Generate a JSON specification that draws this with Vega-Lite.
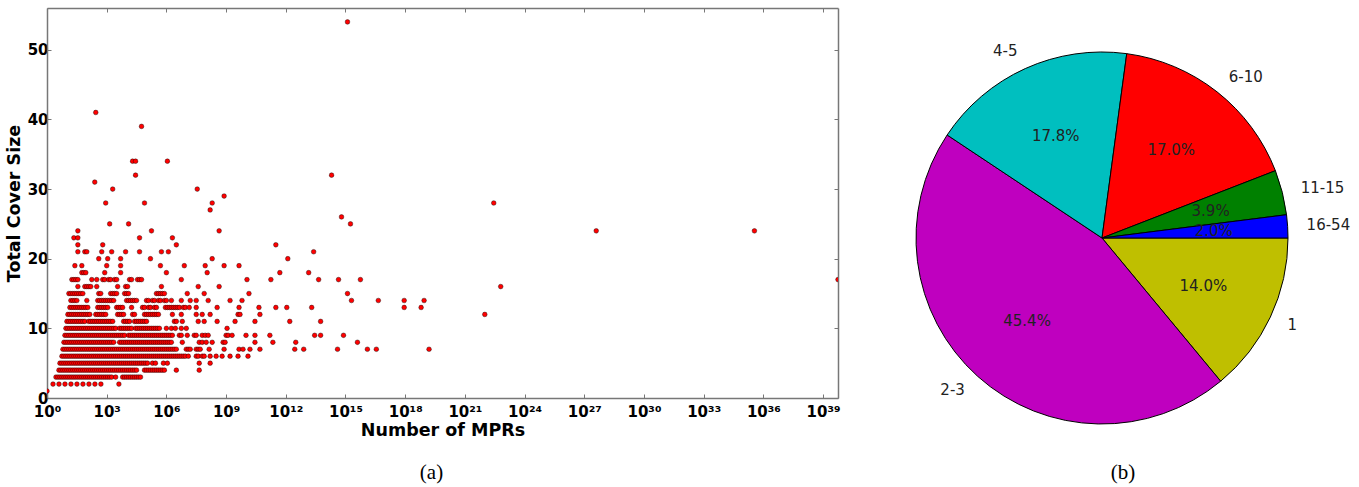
{
"$schema":"https://vega.github.io/schema/vega-lite/v6.json",
"background":"white",
"padding":{"left":5,"top":7,"right":5,"bottom":5},
"config":{"view":{"stroke":null},"font":"DejaVu Sans"},
"datasets":{
"pie":[{"label":"1","pct":14.0,"rank":1},{"label":"2-3","pct":45.4,"rank":2},{"label":"4-5","pct":17.8,"rank":3},{"label":"6-10","pct":17.0,"rank":4},{"label":"11-15","pct":3.9,"rank":5},{"label":"16-54","pct":2.0,"rank":6}],
"mpr":[
{"mprs":1,"cover":1},
{"mprs":2,"cover":2},{"mprs":4,"cover":2},{"mprs":8,"cover":2},{"mprs":16,"cover":2},{"mprs":32,"cover":2},{"mprs":64,"cover":2},{"mprs":128,"cover":2},{"mprs":256,"cover":2},{"mprs":512,"cover":2},{"mprs":4096,"cover":2},
{"mprs":2.82,"cover":3},{"mprs":3.55,"cover":3},{"mprs":4.47,"cover":3},{"mprs":5.62,"cover":3},{"mprs":7.08,"cover":3},{"mprs":8.91,"cover":3},{"mprs":11.2,"cover":3},{"mprs":14.1,"cover":3},{"mprs":17.8,"cover":3},{"mprs":22.4,"cover":3},{"mprs":28.2,"cover":3},{"mprs":35.5,"cover":3},{"mprs":44.7,"cover":3},{"mprs":56.2,"cover":3},{"mprs":70.8,"cover":3},{"mprs":89.1,"cover":3},{"mprs":112,"cover":3},{"mprs":141,"cover":3},{"mprs":178,"cover":3},{"mprs":224,"cover":3},{"mprs":282,"cover":3},{"mprs":355,"cover":3},{"mprs":447,"cover":3},{"mprs":562,"cover":3},{"mprs":708,"cover":3},{"mprs":891,"cover":3},{"mprs":1120,"cover":3},{"mprs":1410,"cover":3},{"mprs":1780,"cover":3},{"mprs":2820,"cover":3},{"mprs":6310,"cover":3},{"mprs":7940,"cover":3},{"mprs":10000,"cover":3},{"mprs":12600,"cover":3},{"mprs":15800,"cover":3},{"mprs":20000,"cover":3},{"mprs":25100,"cover":3},{"mprs":31600,"cover":3},{"mprs":39800,"cover":3},{"mprs":50100,"cover":3},
{"mprs":3.98,"cover":4},{"mprs":5.01,"cover":4},{"mprs":6.31,"cover":4},{"mprs":7.94,"cover":4},{"mprs":10,"cover":4},{"mprs":12.6,"cover":4},{"mprs":15.8,"cover":4},{"mprs":20,"cover":4},{"mprs":25.1,"cover":4},{"mprs":31.6,"cover":4},{"mprs":39.8,"cover":4},{"mprs":50.1,"cover":4},{"mprs":63.1,"cover":4},{"mprs":79.4,"cover":4},{"mprs":100,"cover":4},{"mprs":126,"cover":4},{"mprs":158,"cover":4},{"mprs":200,"cover":4},{"mprs":251,"cover":4},{"mprs":316,"cover":4},{"mprs":398,"cover":4},{"mprs":501,"cover":4},{"mprs":631,"cover":4},{"mprs":794,"cover":4},{"mprs":1000,"cover":4},{"mprs":1260,"cover":4},{"mprs":1580,"cover":4},{"mprs":2000,"cover":4},{"mprs":2510,"cover":4},{"mprs":3160,"cover":4},{"mprs":3980,"cover":4},{"mprs":5010,"cover":4},{"mprs":6310,"cover":4},{"mprs":7940,"cover":4},{"mprs":10000,"cover":4},{"mprs":12600,"cover":4},{"mprs":15800,"cover":4},{"mprs":20000,"cover":4},{"mprs":25100,"cover":4},{"mprs":31600,"cover":4},{"mprs":79400,"cover":4},{"mprs":1e5,"cover":4},{"mprs":1.26e5,"cover":4},{"mprs":1.58e5,"cover":4},{"mprs":2e5,"cover":4},{"mprs":2.51e5,"cover":4},{"mprs":3.16e5,"cover":4},{"mprs":3.98e5,"cover":4},{"mprs":5.01e5,"cover":4},{"mprs":6.31e5,"cover":4},{"mprs":7.94e5,"cover":4},{"mprs":3.16e6,"cover":4},{"mprs":4.47e7,"cover":4},
{"mprs":4.47,"cover":5},{"mprs":5.62,"cover":5},{"mprs":7.08,"cover":5},{"mprs":8.91,"cover":5},{"mprs":11.2,"cover":5},{"mprs":14.1,"cover":5},{"mprs":17.8,"cover":5},{"mprs":22.4,"cover":5},{"mprs":28.2,"cover":5},{"mprs":35.5,"cover":5},{"mprs":44.7,"cover":5},{"mprs":56.2,"cover":5},{"mprs":70.8,"cover":5},{"mprs":89.1,"cover":5},{"mprs":112,"cover":5},{"mprs":141,"cover":5},{"mprs":178,"cover":5},{"mprs":224,"cover":5},{"mprs":282,"cover":5},{"mprs":355,"cover":5},{"mprs":447,"cover":5},{"mprs":562,"cover":5},{"mprs":708,"cover":5},{"mprs":891,"cover":5},{"mprs":1120,"cover":5},{"mprs":1410,"cover":5},{"mprs":1780,"cover":5},{"mprs":2240,"cover":5},{"mprs":2820,"cover":5},{"mprs":3550,"cover":5},{"mprs":4470,"cover":5},{"mprs":5620,"cover":5},{"mprs":7080,"cover":5},{"mprs":8910,"cover":5},{"mprs":11200,"cover":5},{"mprs":14100,"cover":5},{"mprs":17800,"cover":5},{"mprs":22400,"cover":5},{"mprs":28200,"cover":5},{"mprs":35500,"cover":5},{"mprs":44700,"cover":5},{"mprs":56200,"cover":5},{"mprs":70800,"cover":5},{"mprs":89100,"cover":5},{"mprs":1.12e5,"cover":5},{"mprs":2e5,"cover":5},{"mprs":2.82e5,"cover":5},{"mprs":7.08e5,"cover":5},{"mprs":1.12e6,"cover":5},{"mprs":4.47e7,"cover":5},{"mprs":1.58e8,"cover":5},
{"mprs":5.62,"cover":6},{"mprs":7.08,"cover":6},{"mprs":8.91,"cover":6},{"mprs":11.2,"cover":6},{"mprs":14.1,"cover":6},{"mprs":17.8,"cover":6},{"mprs":22.4,"cover":6},{"mprs":28.2,"cover":6},{"mprs":35.5,"cover":6},{"mprs":44.7,"cover":6},{"mprs":56.2,"cover":6},{"mprs":70.8,"cover":6},{"mprs":89.1,"cover":6},{"mprs":112,"cover":6},{"mprs":141,"cover":6},{"mprs":178,"cover":6},{"mprs":224,"cover":6},{"mprs":282,"cover":6},{"mprs":355,"cover":6},{"mprs":447,"cover":6},{"mprs":562,"cover":6},{"mprs":708,"cover":6},{"mprs":891,"cover":6},{"mprs":1120,"cover":6},{"mprs":1410,"cover":6},{"mprs":1780,"cover":6},{"mprs":2240,"cover":6},{"mprs":2820,"cover":6},{"mprs":3550,"cover":6},{"mprs":4470,"cover":6},{"mprs":5620,"cover":6},{"mprs":7080,"cover":6},{"mprs":8910,"cover":6},{"mprs":11200,"cover":6},{"mprs":14100,"cover":6},{"mprs":17800,"cover":6},{"mprs":22400,"cover":6},{"mprs":28200,"cover":6},{"mprs":35500,"cover":6},{"mprs":44700,"cover":6},{"mprs":56200,"cover":6},{"mprs":70800,"cover":6},{"mprs":89100,"cover":6},{"mprs":1.12e5,"cover":6},{"mprs":1.41e5,"cover":6},{"mprs":1.78e5,"cover":6},{"mprs":2.24e5,"cover":6},{"mprs":2.82e5,"cover":6},{"mprs":3.55e5,"cover":6},{"mprs":4.47e5,"cover":6},{"mprs":5.62e5,"cover":6},{"mprs":7.08e5,"cover":6},{"mprs":8.91e5,"cover":6},{"mprs":1.12e6,"cover":6},{"mprs":1.41e6,"cover":6},{"mprs":1.78e6,"cover":6},{"mprs":2.24e6,"cover":6},{"mprs":2.82e6,"cover":6},{"mprs":3.55e6,"cover":6},{"mprs":4.47e6,"cover":6},{"mprs":5.62e6,"cover":6},{"mprs":7.08e6,"cover":6},{"mprs":8.91e6,"cover":6},{"mprs":1.26e7,"cover":6},{"mprs":3.16e7,"cover":6},{"mprs":3.98e7,"cover":6},{"mprs":6.31e7,"cover":6},{"mprs":7.94e7,"cover":6},{"mprs":1.58e8,"cover":6},{"mprs":3.16e8,"cover":6},{"mprs":6.31e8,"cover":6},{"mprs":1.58e9,"cover":6},{"mprs":3.98e9,"cover":6},{"mprs":1.26e10,"cover":6},
{"mprs":6.31,"cover":7},{"mprs":7.94,"cover":7},{"mprs":10,"cover":7},{"mprs":12.6,"cover":7},{"mprs":15.8,"cover":7},{"mprs":20,"cover":7},{"mprs":25.1,"cover":7},{"mprs":31.6,"cover":7},{"mprs":39.8,"cover":7},{"mprs":50.1,"cover":7},{"mprs":63.1,"cover":7},{"mprs":79.4,"cover":7},{"mprs":100,"cover":7},{"mprs":126,"cover":7},{"mprs":158,"cover":7},{"mprs":200,"cover":7},{"mprs":251,"cover":7},{"mprs":316,"cover":7},{"mprs":398,"cover":7},{"mprs":501,"cover":7},{"mprs":631,"cover":7},{"mprs":794,"cover":7},{"mprs":1000,"cover":7},{"mprs":1260,"cover":7},{"mprs":1580,"cover":7},{"mprs":2000,"cover":7},{"mprs":2510,"cover":7},{"mprs":3160,"cover":7},{"mprs":3980,"cover":7},{"mprs":5010,"cover":7},{"mprs":6310,"cover":7},{"mprs":7940,"cover":7},{"mprs":10000,"cover":7},{"mprs":12600,"cover":7},{"mprs":15800,"cover":7},{"mprs":20000,"cover":7},{"mprs":25100,"cover":7},{"mprs":31600,"cover":7},{"mprs":39800,"cover":7},{"mprs":50100,"cover":7},{"mprs":63100,"cover":7},{"mprs":79400,"cover":7},{"mprs":1e5,"cover":7},{"mprs":1.26e5,"cover":7},{"mprs":1.58e5,"cover":7},{"mprs":2e5,"cover":7},{"mprs":2.51e5,"cover":7},{"mprs":3.16e5,"cover":7},{"mprs":3.98e5,"cover":7},{"mprs":5.01e5,"cover":7},{"mprs":6.31e5,"cover":7},{"mprs":7.94e5,"cover":7},{"mprs":1e6,"cover":7},{"mprs":1.26e6,"cover":7},{"mprs":1.58e6,"cover":7},{"mprs":2e6,"cover":7},{"mprs":2.51e6,"cover":7},{"mprs":3.16e6,"cover":7},{"mprs":1e7,"cover":7},{"mprs":1.26e7,"cover":7},{"mprs":1.58e7,"cover":7},{"mprs":3.16e7,"cover":7},{"mprs":3.98e7,"cover":7},{"mprs":5.01e7,"cover":7},{"mprs":1.41e8,"cover":7},{"mprs":7.94e8,"cover":7},{"mprs":4.47e9,"cover":7},{"mprs":7.08e9,"cover":7},{"mprs":1.58e10,"cover":7},{"mprs":5.01e10,"cover":7},{"mprs":2.82e12,"cover":7},{"mprs":7.94e12,"cover":7},{"mprs":3.98e14,"cover":7},{"mprs":1.26e16,"cover":7},{"mprs":3.55e16,"cover":7},{"mprs":1.58e19,"cover":7},
{"mprs":7.08,"cover":8},{"mprs":8.91,"cover":8},{"mprs":11.2,"cover":8},{"mprs":14.1,"cover":8},{"mprs":17.8,"cover":8},{"mprs":22.4,"cover":8},{"mprs":28.2,"cover":8},{"mprs":35.5,"cover":8},{"mprs":44.7,"cover":8},{"mprs":56.2,"cover":8},{"mprs":70.8,"cover":8},{"mprs":89.1,"cover":8},{"mprs":112,"cover":8},{"mprs":141,"cover":8},{"mprs":178,"cover":8},{"mprs":224,"cover":8},{"mprs":282,"cover":8},{"mprs":355,"cover":8},{"mprs":447,"cover":8},{"mprs":562,"cover":8},{"mprs":708,"cover":8},{"mprs":891,"cover":8},{"mprs":1120,"cover":8},{"mprs":1410,"cover":8},{"mprs":1780,"cover":8},{"mprs":2240,"cover":8},{"mprs":4470,"cover":8},{"mprs":5620,"cover":8},{"mprs":7080,"cover":8},{"mprs":8910,"cover":8},{"mprs":11200,"cover":8},{"mprs":14100,"cover":8},{"mprs":17800,"cover":8},{"mprs":22400,"cover":8},{"mprs":28200,"cover":8},{"mprs":35500,"cover":8},{"mprs":44700,"cover":8},{"mprs":56200,"cover":8},{"mprs":70800,"cover":8},{"mprs":89100,"cover":8},{"mprs":1.12e5,"cover":8},{"mprs":1.41e5,"cover":8},{"mprs":1.78e5,"cover":8},{"mprs":2.24e5,"cover":8},{"mprs":2.82e5,"cover":8},{"mprs":3.55e5,"cover":8},{"mprs":4.47e5,"cover":8},{"mprs":5.62e5,"cover":8},{"mprs":7.08e5,"cover":8},{"mprs":8.91e5,"cover":8},{"mprs":1.12e6,"cover":8},{"mprs":1.41e6,"cover":8},{"mprs":1.78e6,"cover":8},{"mprs":6.31e6,"cover":8},{"mprs":4.47e7,"cover":8},{"mprs":6.31e7,"cover":8},{"mprs":1e8,"cover":8},{"mprs":2e8,"cover":8},{"mprs":7.08e8,"cover":8},{"mprs":8.91e8,"cover":8},{"mprs":2.82e10,"cover":8},{"mprs":2.24e11,"cover":8},{"mprs":3.16e12,"cover":8},{"mprs":3.98e15,"cover":8},
{"mprs":7.94,"cover":9},{"mprs":10,"cover":9},{"mprs":12.6,"cover":9},{"mprs":15.8,"cover":9},{"mprs":20,"cover":9},{"mprs":25.1,"cover":9},{"mprs":31.6,"cover":9},{"mprs":39.8,"cover":9},{"mprs":50.1,"cover":9},{"mprs":63.1,"cover":9},{"mprs":79.4,"cover":9},{"mprs":100,"cover":9},{"mprs":126,"cover":9},{"mprs":158,"cover":9},{"mprs":200,"cover":9},{"mprs":251,"cover":9},{"mprs":316,"cover":9},{"mprs":398,"cover":9},{"mprs":501,"cover":9},{"mprs":631,"cover":9},{"mprs":794,"cover":9},{"mprs":1000,"cover":9},{"mprs":1260,"cover":9},{"mprs":1580,"cover":9},{"mprs":2000,"cover":9},{"mprs":2510,"cover":9},{"mprs":3160,"cover":9},{"mprs":3980,"cover":9},{"mprs":5010,"cover":9},{"mprs":6310,"cover":9},{"mprs":7940,"cover":9},{"mprs":12600,"cover":9},{"mprs":15800,"cover":9},{"mprs":20000,"cover":9},{"mprs":25100,"cover":9},{"mprs":31600,"cover":9},{"mprs":39800,"cover":9},{"mprs":50100,"cover":9},{"mprs":63100,"cover":9},{"mprs":79400,"cover":9},{"mprs":1e5,"cover":9},{"mprs":1.26e5,"cover":9},{"mprs":1.58e5,"cover":9},{"mprs":2e5,"cover":9},{"mprs":2.51e5,"cover":9},{"mprs":3.16e5,"cover":9},{"mprs":3.98e5,"cover":9},{"mprs":5.01e5,"cover":9},{"mprs":6.31e5,"cover":9},{"mprs":7.94e5,"cover":9},{"mprs":1e6,"cover":9},{"mprs":1.26e6,"cover":9},{"mprs":1.58e6,"cover":9},{"mprs":2e6,"cover":9},{"mprs":4.47e6,"cover":9},{"mprs":5.62e6,"cover":9},{"mprs":1.12e7,"cover":9},{"mprs":2.51e7,"cover":9},{"mprs":3.16e7,"cover":9},{"mprs":6.31e7,"cover":9},{"mprs":8.91e7,"cover":9},{"mprs":1.26e8,"cover":9},{"mprs":1e9,"cover":9},{"mprs":1.26e9,"cover":9},{"mprs":2e9,"cover":9},{"mprs":1e10,"cover":9},{"mprs":2.82e10,"cover":9},{"mprs":1.58e11,"cover":9},{"mprs":2.82e13,"cover":9},{"mprs":5.62e13,"cover":9},{"mprs":7.94e14,"cover":9},
{"mprs":8.91,"cover":10},{"mprs":11.2,"cover":10},{"mprs":14.1,"cover":10},{"mprs":17.8,"cover":10},{"mprs":22.4,"cover":10},{"mprs":28.2,"cover":10},{"mprs":35.5,"cover":10},{"mprs":44.7,"cover":10},{"mprs":56.2,"cover":10},{"mprs":70.8,"cover":10},{"mprs":89.1,"cover":10},{"mprs":112,"cover":10},{"mprs":141,"cover":10},{"mprs":178,"cover":10},{"mprs":224,"cover":10},{"mprs":282,"cover":10},{"mprs":355,"cover":10},{"mprs":447,"cover":10},{"mprs":562,"cover":10},{"mprs":708,"cover":10},{"mprs":891,"cover":10},{"mprs":1120,"cover":10},{"mprs":1410,"cover":10},{"mprs":1780,"cover":10},{"mprs":2240,"cover":10},{"mprs":2820,"cover":10},{"mprs":4470,"cover":10},{"mprs":5620,"cover":10},{"mprs":7080,"cover":10},{"mprs":8910,"cover":10},{"mprs":11200,"cover":10},{"mprs":14100,"cover":10},{"mprs":17800,"cover":10},{"mprs":28200,"cover":10},{"mprs":35500,"cover":10},{"mprs":44700,"cover":10},{"mprs":56200,"cover":10},{"mprs":70800,"cover":10},{"mprs":89100,"cover":10},{"mprs":1.12e5,"cover":10},{"mprs":1.41e5,"cover":10},{"mprs":1.78e5,"cover":10},{"mprs":2.24e5,"cover":10},{"mprs":2.82e5,"cover":10},{"mprs":3.55e5,"cover":10},{"mprs":4.47e5,"cover":10},{"mprs":1e6,"cover":10},{"mprs":1.78e6,"cover":10},{"mprs":2.82e6,"cover":10},{"mprs":5.62e6,"cover":10},{"mprs":1e7,"cover":10},{"mprs":1.12e9,"cover":10},
{"mprs":10,"cover":11},{"mprs":12.6,"cover":11},{"mprs":15.8,"cover":11},{"mprs":20,"cover":11},{"mprs":25.1,"cover":11},{"mprs":31.6,"cover":11},{"mprs":39.8,"cover":11},{"mprs":50.1,"cover":11},{"mprs":63.1,"cover":11},{"mprs":79.4,"cover":11},{"mprs":126,"cover":11},{"mprs":158,"cover":11},{"mprs":200,"cover":11},{"mprs":251,"cover":11},{"mprs":316,"cover":11},{"mprs":398,"cover":11},{"mprs":501,"cover":11},{"mprs":631,"cover":11},{"mprs":794,"cover":11},{"mprs":1000,"cover":11},{"mprs":1260,"cover":11},{"mprs":1580,"cover":11},{"mprs":2000,"cover":11},{"mprs":7080,"cover":11},{"mprs":8910,"cover":11},{"mprs":11200,"cover":11},{"mprs":14100,"cover":11},{"mprs":25100,"cover":11},{"mprs":31600,"cover":11},{"mprs":39800,"cover":11},{"mprs":50100,"cover":11},{"mprs":63100,"cover":11},{"mprs":79400,"cover":11},{"mprs":1e5,"cover":11},{"mprs":2.51e6,"cover":11},{"mprs":3.16e6,"cover":11},{"mprs":6.31e6,"cover":11},{"mprs":3.98e7,"cover":11},{"mprs":7.94e7,"cover":11},{"mprs":3.55e8,"cover":11},{"mprs":2.82e9,"cover":11},{"mprs":2.82e10,"cover":11},{"mprs":1.58e12,"cover":11},{"mprs":5.62e13,"cover":11},
{"mprs":11.2,"cover":12},{"mprs":14.1,"cover":12},{"mprs":17.8,"cover":12},{"mprs":22.4,"cover":12},{"mprs":28.2,"cover":12},{"mprs":35.5,"cover":12},{"mprs":44.7,"cover":12},{"mprs":56.2,"cover":12},{"mprs":70.8,"cover":12},{"mprs":89.1,"cover":12},{"mprs":112,"cover":12},{"mprs":141,"cover":12},{"mprs":282,"cover":12},{"mprs":355,"cover":12},{"mprs":447,"cover":12},{"mprs":562,"cover":12},{"mprs":708,"cover":12},{"mprs":891,"cover":12},{"mprs":3550,"cover":12},{"mprs":4470,"cover":12},{"mprs":5620,"cover":12},{"mprs":7080,"cover":12},{"mprs":20000,"cover":12},{"mprs":25100,"cover":12},{"mprs":79400,"cover":12},{"mprs":1e5,"cover":12},{"mprs":1.26e5,"cover":12},{"mprs":1.58e5,"cover":12},{"mprs":2e5,"cover":12},{"mprs":2.51e5,"cover":12},{"mprs":3.16e5,"cover":12},{"mprs":3.98e5,"cover":12},{"mprs":2e6,"cover":12},{"mprs":5.62e6,"cover":12},{"mprs":3.16e7,"cover":12},{"mprs":6.31e7,"cover":12},{"mprs":1.58e8,"cover":12},{"mprs":3.98e9,"cover":12},{"mprs":5.01e9,"cover":12},{"mprs":5.01e10,"cover":12},{"mprs":1e22,"cover":12},
{"mprs":14.1,"cover":13},{"mprs":17.8,"cover":13},{"mprs":22.4,"cover":13},{"mprs":28.2,"cover":13},{"mprs":35.5,"cover":13},{"mprs":44.7,"cover":13},{"mprs":56.2,"cover":13},{"mprs":70.8,"cover":13},{"mprs":89.1,"cover":13},{"mprs":112,"cover":13},{"mprs":355,"cover":13},{"mprs":447,"cover":13},{"mprs":562,"cover":13},{"mprs":708,"cover":13},{"mprs":891,"cover":13},{"mprs":1120,"cover":13},{"mprs":3160,"cover":13},{"mprs":3980,"cover":13},{"mprs":5010,"cover":13},{"mprs":6310,"cover":13},{"mprs":17800,"cover":13},{"mprs":63100,"cover":13},{"mprs":79400,"cover":13},{"mprs":1.26e5,"cover":13},{"mprs":1.58e5,"cover":13},{"mprs":2.51e5,"cover":13},{"mprs":3.16e5,"cover":13},{"mprs":8.91e5,"cover":13},{"mprs":1.12e6,"cover":13},{"mprs":1.41e6,"cover":13},{"mprs":1.78e6,"cover":13},{"mprs":2.24e6,"cover":13},{"mprs":2.82e6,"cover":13},{"mprs":3.55e6,"cover":13},{"mprs":4.47e6,"cover":13},{"mprs":7.08e6,"cover":13},{"mprs":8.91e6,"cover":13},{"mprs":1.41e7,"cover":13},{"mprs":3.16e7,"cover":13},{"mprs":3.55e8,"cover":13},{"mprs":4.47e9,"cover":13},{"mprs":4.47e10,"cover":13},{"mprs":3.16e11,"cover":13},{"mprs":1.12e12,"cover":13},{"mprs":2e13,"cover":13},{"mprs":8.91e17,"cover":13},{"mprs":6.31e18,"cover":13},
{"mprs":15.8,"cover":14},{"mprs":20,"cover":14},{"mprs":25.1,"cover":14},{"mprs":31.6,"cover":14},{"mprs":100,"cover":14},{"mprs":355,"cover":14},{"mprs":447,"cover":14},{"mprs":562,"cover":14},{"mprs":708,"cover":14},{"mprs":891,"cover":14},{"mprs":1120,"cover":14},{"mprs":1410,"cover":14},{"mprs":1780,"cover":14},{"mprs":2240,"cover":14},{"mprs":10000,"cover":14},{"mprs":12600,"cover":14},{"mprs":15800,"cover":14},{"mprs":20000,"cover":14},{"mprs":25100,"cover":14},{"mprs":31600,"cover":14},{"mprs":1e5,"cover":14},{"mprs":1.26e5,"cover":14},{"mprs":2e5,"cover":14},{"mprs":2.51e5,"cover":14},{"mprs":3.98e5,"cover":14},{"mprs":5.01e5,"cover":14},{"mprs":7.94e5,"cover":14},{"mprs":1e6,"cover":14},{"mprs":1.78e6,"cover":14},{"mprs":5.62e6,"cover":14},{"mprs":1.58e7,"cover":14},{"mprs":3.16e7,"cover":14},{"mprs":1.26e8,"cover":14},{"mprs":1.58e9,"cover":14},{"mprs":6.31e9,"cover":14},{"mprs":2e15,"cover":14},{"mprs":4.47e16,"cover":14},{"mprs":8.91e17,"cover":14},{"mprs":8.91e18,"cover":14},
{"mprs":12.6,"cover":15},{"mprs":15.8,"cover":15},{"mprs":20,"cover":15},{"mprs":25.1,"cover":15},{"mprs":31.6,"cover":15},{"mprs":39.8,"cover":15},{"mprs":50.1,"cover":15},{"mprs":63.1,"cover":15},{"mprs":398,"cover":15},{"mprs":501,"cover":15},{"mprs":1580,"cover":15},{"mprs":2000,"cover":15},{"mprs":2510,"cover":15},{"mprs":3160,"cover":15},{"mprs":7940,"cover":15},{"mprs":10000,"cover":15},{"mprs":12600,"cover":15},{"mprs":3.16e5,"cover":15},{"mprs":3.98e5,"cover":15},{"mprs":5.01e5,"cover":15},{"mprs":6.31e5,"cover":15},{"mprs":7.94e5,"cover":15},{"mprs":1.12e7,"cover":15},{"mprs":7.94e7,"cover":15},{"mprs":1.41e10,"cover":15},{"mprs":1.26e15,"cover":15},
{"mprs":35.5,"cover":16},{"mprs":79.4,"cover":16},{"mprs":100,"cover":16},{"mprs":126,"cover":16},{"mprs":158,"cover":16},{"mprs":316,"cover":16},{"mprs":3550,"cover":16},{"mprs":8910,"cover":16},{"mprs":11200,"cover":16},{"mprs":5.62e5,"cover":16},{"mprs":3.98e7,"cover":16},{"mprs":4.47e8,"cover":16},{"mprs":6.31e22,"cover":16},
{"mprs":17.8,"cover":17},{"mprs":22.4,"cover":17},{"mprs":28.2,"cover":17},{"mprs":35.5,"cover":17},{"mprs":178,"cover":17},{"mprs":316,"cover":17},{"mprs":631,"cover":17},{"mprs":794,"cover":17},{"mprs":1260,"cover":17},{"mprs":1580,"cover":17},{"mprs":2510,"cover":17},{"mprs":3160,"cover":17},{"mprs":14100,"cover":17},{"mprs":17800,"cover":17},{"mprs":35500,"cover":17},{"mprs":44700,"cover":17},{"mprs":56200,"cover":17},{"mprs":5.62e6,"cover":17},{"mprs":1.12e10,"cover":17},{"mprs":1.78e11,"cover":17},{"mprs":4.47e13,"cover":17},{"mprs":4.47e14,"cover":17},{"mprs":5.62e15,"cover":17},{"mprs":5.62e39,"cover":17},
{"mprs":56.2,"cover":18},{"mprs":70.8,"cover":18},{"mprs":89.1,"cover":18},{"mprs":794,"cover":18},{"mprs":5010,"cover":18},{"mprs":1e6,"cover":18},{"mprs":1.12e8,"cover":18},{"mprs":5.01e11,"cover":18},{"mprs":1.41e13,"cover":18},
{"mprs":25.1,"cover":19},{"mprs":56.2,"cover":19},{"mprs":1000,"cover":19},{"mprs":5010,"cover":19},{"mprs":5.01e5,"cover":19},{"mprs":7.94e6,"cover":19},{"mprs":8.91e7,"cover":19},{"mprs":7.94e8,"cover":19},{"mprs":4.47e9,"cover":19},
{"mprs":398,"cover":20},{"mprs":1120,"cover":20},{"mprs":5010,"cover":20},{"mprs":1.58e5,"cover":20},{"mprs":2e8,"cover":20},{"mprs":1.26e12,"cover":20},
{"mprs":35.5,"cover":21},{"mprs":79.4,"cover":21},{"mprs":100,"cover":21},{"mprs":562,"cover":21},{"mprs":1780,"cover":21},{"mprs":8910,"cover":21},{"mprs":44700,"cover":21},{"mprs":5.62e5,"cover":21},{"mprs":1.26e6,"cover":21},{"mprs":2.51e13,"cover":21},
{"mprs":35.5,"cover":22},{"mprs":631,"cover":22},{"mprs":3.16e6,"cover":22},{"mprs":3.16e11,"cover":22},
{"mprs":22.4,"cover":23},{"mprs":35.5,"cover":23},{"mprs":44700,"cover":23},{"mprs":2e6,"cover":23},
{"mprs":35.5,"cover":24},{"mprs":1.78e5,"cover":24},{"mprs":4.47e8,"cover":24},{"mprs":3.98e27,"cover":24},{"mprs":3.55e35,"cover":24},
{"mprs":1410,"cover":25},{"mprs":12600,"cover":25},{"mprs":1.78e15,"cover":25},
{"mprs":6.31e14,"cover":26},
{"mprs":1.58e8,"cover":27},
{"mprs":891,"cover":28},{"mprs":79400,"cover":28},{"mprs":2e8,"cover":28},{"mprs":2.82e22,"cover":28},
{"mprs":7.94e8,"cover":29},
{"mprs":2000,"cover":30},{"mprs":3.55e7,"cover":30},
{"mprs":251,"cover":31},
{"mprs":28200,"cover":32},{"mprs":2e14,"cover":32},
{"mprs":20000,"cover":34},{"mprs":28200,"cover":34},{"mprs":1.12e6,"cover":34},
{"mprs":56200,"cover":39},
{"mprs":282,"cover":41},
{"mprs":1.26e15,"cover":54}
]},
"bounds":"flush",
"spacing":78,
"hconcat":[
{
"width":791,"height":390,
"title":{"text":"(a)","orient":"bottom","font":"Liberation Serif","fontSize":21,"fontWeight":"normal","color":"#000","dx":-11,"offset":23},
"data":{"name":"mpr"},
"layer":[
{"mark":{"type":"circle","size":22,"fill":"#ff0000","stroke":"#000000","strokeWidth":0.4,"opacity":1,"fillOpacity":1,"clip":true},
"encoding":{
"x":{"field":"mprs","type":"quantitative","scale":{"type":"log","domain":[1,5.62e39],"nice":false},
"axis":{"values":[1,1e3,1e6,1e9,1e12,1e15,1e18,1e21,1e24,1e27,1e30,1e33,1e36,1e39],
"labelExpr":"'10' + (round(log(datum.value)/LN10) >= 10 ? substring('⁰¹²³⁴⁵⁶⁷⁸⁹', floor(round(log(datum.value)/LN10)/10), floor(round(log(datum.value)/LN10)/10) + 1) : '') + substring('⁰¹²³⁴⁵⁶⁷⁸⁹', round(log(datum.value)/LN10) % 10, round(log(datum.value)/LN10) % 10 + 1)",
"labelFont":"DejaVu Sans","labelFontWeight":"bold","labelFontSize":15,"labelColor":"#000","labelPadding":10,"labelFlush":false,"labelOverlap":false,
"tickSize":-4,"tickColor":"#777","domainColor":"#777","domainWidth":1.5,"grid":false,
"title":"Number of MPRs","titleFont":"DejaVu Sans","titleFontSize":17.5,"titleFontWeight":"bold","titleColor":"#000","titlePadding":2}},
"y":{"field":"cover","type":"quantitative","scale":{"domain":[0,56],"nice":false},
"axis":{"values":[0,10,20,30,40,50],"labelFont":"DejaVu Sans","labelFontWeight":"bold","labelFontSize":15,"labelColor":"#000","labelPadding":3,"labelFlush":false,
"tickSize":-4,"tickColor":"#777","domainColor":"#777","domainWidth":1.5,"grid":false,
"title":"Total Cover Size","titleFont":"DejaVu Sans","titleFontSize":17.5,"titleFontWeight":"bold","titleColor":"#000","titlePadding":4}}
}},
{"mark":{"type":"circle","opacity":0},
"encoding":{
"x":{"field":"mprs","type":"quantitative","scale":{"type":"log","domain":[1,5.62e39],"nice":false},
"axis":{"orient":"top","values":[1,1e3,1e6,1e9,1e12,1e15,1e18,1e21,1e24,1e27,1e30,1e33,1e36,1e39],"labels":false,"title":null,"tickSize":-4,"tickColor":"#777","domainColor":"#777","domainWidth":1.5,"grid":false}},
"y":{"field":"cover","type":"quantitative","scale":{"domain":[0,56],"nice":false},
"axis":{"orient":"right","values":[0,10,20,30,40,50],"labels":false,"title":null,"tickSize":-4,"tickColor":"#777","domainColor":"#777","domainWidth":1.5,"grid":false}}
}}
],
"resolve":{"axis":{"x":"independent","y":"independent"}}
},
{
"width":372,"height":460,
"title":{"text":"(b)","orient":"bottom","font":"Liberation Serif","fontSize":21,"fontWeight":"normal","color":"#000","dx":21,"offset":-6},
"data":{"name":"pie"},
"encoding":{
"theta":{"field":"pct","type":"quantitative","stack":true,"scale":{"range":[1.5708,7.854]}},
"order":{"field":"rank","type":"quantitative"}
},
"layer":[
{"mark":{"type":"arc","stroke":"#000000","strokeWidth":1},
"encoding":{"color":{"field":"label","type":"nominal","scale":{"domain":["1","2-3","4-5","6-10","11-15","16-54"],"range":["#bfbf00","#bf00bf","#00bfbf","#ff0000","#008000","#0000ff"]},"legend":null}}},
{"mark":{"type":"text","radius":205,"font":"DejaVu Sans","fontSize":15,"fill":"#222222","baseline":"middle","align":{"expr":"indexof(['2-3','4-5'], datum.label) >= 0 ? 'right' : 'left'"}},
"encoding":{"text":{"field":"label","type":"nominal"}}},
{"transform":[{"calculate":"format(datum.pct, '.1f') + '%'","as":"pct_text"}],
"mark":{"type":"text","radius":112,"font":"DejaVu Sans","fontSize":15,"fill":"#222222","baseline":"middle","align":"center"},
"encoding":{"text":{"field":"pct_text","type":"nominal"}}}
]
}
]
}
